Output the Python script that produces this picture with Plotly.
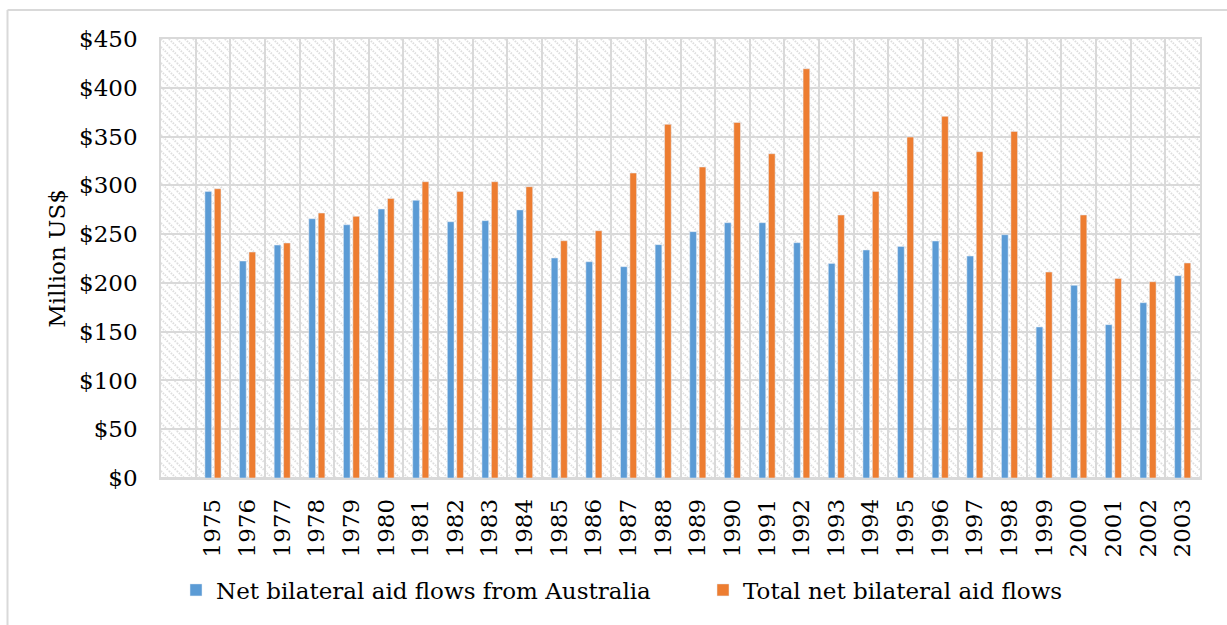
import base64
import plotly.graph_objects as go

years = list(range(1975, 2004))
year_labels = [str(y) for y in years]
australia = [293.8, 222.4, 238.8, 265.8, 259.6, 275.7, 284.6, 262.7, 263.8, 274.8,
             225.5, 221.7, 216.6, 239.2, 252.5, 261.7, 261.7, 241.2, 220.0, 233.7,
             237.4, 242.9, 227.5, 249.4, 154.8, 197.5, 157.2, 179.7, 207.4]
total = [296.5, 231.6, 240.9, 271.6, 268.2, 286.6, 303.7, 293.8, 303.7, 298.6,
         243.2, 253.5, 312.6, 362.5, 318.8, 364.5, 332.4, 419.5, 269.6, 293.8,
         349.5, 370.7, 334.5, 355.3, 211.1, 269.6, 204.6, 201.2, 220.4]
series_names = ["Net bilateral aid flows from Australia", "Total net bilateral aid flows"]
y_ticks = list(range(0, 451, 50))
y_tick_labels = [f"${v}" for v in y_ticks]

FONT = "DejaVu Serif"
FS = 23
GRID = "#d9d9d9"

W, H = 1227, 625
L, R, T, B = 161, 27, 39, 147
PW, PH = W - L - R, H - T - B

svg = (
    f"<svg xmlns='http://www.w3.org/2000/svg' width='{PW}' height='{PH}'>"
    "<defs><pattern id='p' width='8' height='8' patternUnits='userSpaceOnUse'>"
    "<path d='M-2,6 L2,10 M0,0 L8,8 M6,-2 L10,2' stroke='#dedede' stroke-width='2' "
    "stroke-dasharray='1.5,1.2'/>"
    "</pattern></defs>"
    f"<rect width='{PW}' height='{PH}' fill='white'/>"
    f"<rect width='{PW}' height='{PH}' fill='url(#p)'/></svg>"
)
svg_uri = "data:image/svg+xml;base64," + base64.b64encode(svg.encode()).decode()

fig = go.Figure()
fig.add_trace(go.Bar(x=years, y=australia, name=series_names[0], marker_color="#5B9BD5",
                     legend="legend"))
fig.add_trace(go.Bar(x=years, y=total, name=series_names[1], marker_color="#ED7D31",
                     legend="legend2"))

legend_common = dict(orientation="h", xanchor="left", y=-0.255, yanchor="middle",
                     font=dict(family=FONT, size=FS, color="black"),
                     bgcolor="rgba(0,0,0,0)", itemwidth=30)

fig.update_layout(
    width=W, height=H,
    margin=dict(l=L, r=R, t=T, b=B, autoexpand=False),
    paper_bgcolor="white", plot_bgcolor="rgba(0,0,0,0)",
    barmode="group", bargap=0.457, bargroupgap=0.29,
    font=dict(family=FONT, size=FS, color="black"),
    showlegend=True,
    legend=dict(x=(176 - L) / PW, **legend_common),
    legend2=dict(x=(703 - L) / PW, **legend_common),
    images=[dict(source=svg_uri, xref="paper", yref="paper", x=0, y=1, sizex=1, sizey=1,
                 xanchor="left", yanchor="top", sizing="stretch", layer="below")],
    shapes=[
        dict(type="line", xref="paper", yref="paper",
             x0=(7.5 - L) / PW, x1=(W - L) / PW, y0=1 + (T - 10) / PH, y1=1 + (T - 10) / PH,
             line=dict(color="#d9d9d9", width=2)),
        dict(type="line", xref="paper", yref="paper",
             x0=(7.5 - L) / PW, x1=(7.5 - L) / PW, y0=1 + (T - 10) / PH, y1=-(B) / PH,
             line=dict(color="#d9d9d9", width=2)),
    ],
)

fig.update_xaxes(
    range=[years[0] - 1.5, years[-1] + 0.5],
    tickmode="array", tickvals=years, ticktext=year_labels, tickangle=-90,
    ticks="", ticklabelstandoff=10, showgrid=False, zeroline=False,
    showline=True, mirror=True, linecolor=GRID, linewidth=1.5,
    minor=dict(tickmode="linear", tick0=years[0] - 0.5, dtick=1, showgrid=True,
               gridcolor=GRID, gridwidth=1.5, ticks=""),
    tickfont=dict(family=FONT, size=FS, color="black"),
)
fig.update_yaxes(
    range=[0, 450], tickmode="array", tickvals=y_ticks, ticktext=y_tick_labels,
    ticks="", ticklabelstandoff=17, showgrid=True, gridcolor=GRID, gridwidth=1.5,
    zeroline=True, zerolinecolor=GRID, zerolinewidth=1.5,
    showline=True, mirror=True, linecolor=GRID, linewidth=1.5,
    title=dict(text="Million US$", standoff=7, font=dict(family=FONT, size=FS, color="black")),
    tickfont=dict(family=FONT, size=FS, color="black"),
)

fig.write_html("out.html", config={"displayModeBar": False},
               post_script="document.body.style.margin='0';")
